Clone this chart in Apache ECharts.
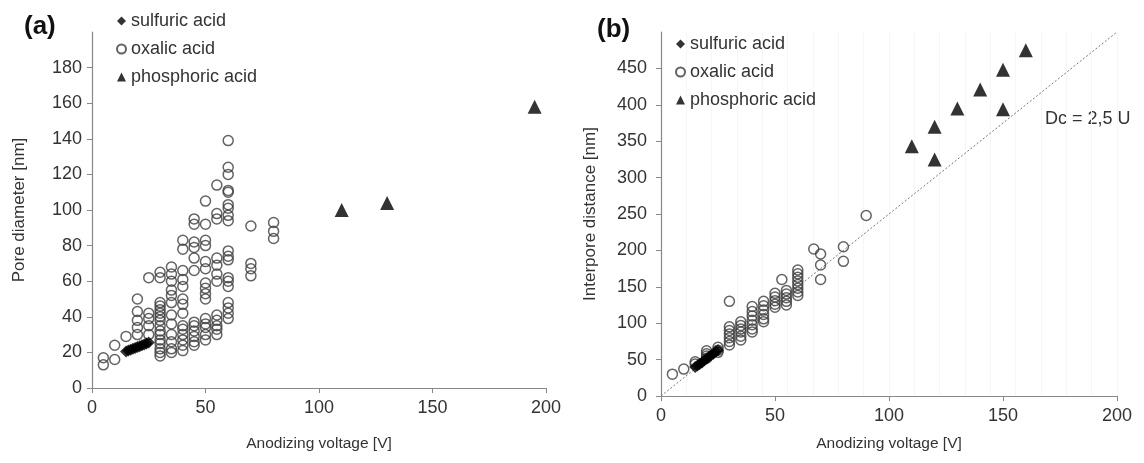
<!DOCTYPE html>
<html><head><meta charset="utf-8">
<script src="https://cdn.jsdelivr.net/npm/echarts@6/dist/echarts.min.js"></script>
<style>html,body{margin:0;padding:0;background:#fff}#c{width:1144px;height:463px}</style>
</head><body><div id="c"></div>
<script>
// ---------- Panel (a): pore diameter ----------
const voltsA = [5,10,15,20,25,30,35,40,45,50,55,60,70,80];
const oxalicDiamA = [
  [17,13],[24,16],[29],[50,43,38,34,30],[62,42,39,35,30],
  [65,62,48,46,44,42,40,38,35,32,30,27,25,22,20,18],
  [68,64,60,55,52,48,41,36,30,26,22,20],
  [83,78,66,61,57,50,47,42,35,33,30,27,24,21],
  [95,92,82,79,73,66,37,35,32,29,26,24],
  [105,92,83,80,71,67,59,56,53,50,39,36,34,30,27],
  [114,98,95,73,69,64,60,41,38,35,33,30],
  [139,124,120,111,110,103,101,97,94,77,74,72,62,60,57,48,45,42,39],
  [91,70,67,63],[93,88,84]
];
const sulfuricVoltsA = [15,16,17,18,19,20,21,22,23,24,25];
const sulfuricDiamA  = [20.5,21,21.5,22,22.5,23,23.5,24,24.5,25,25.5];
const phosVoltsA = [110,130,195];
const phosDiamA  = [100,104,158];

// ---------- Panel (b): interpore distance ----------
const voltsB = [5,10,15,20,25,30,35,40,45,50,53,55,60,67,70,80,90];
const oxalicDistB = [
  [30],[37],[44,47],[52,55,58,62],[60,63,67],
  [130,95,90,85,80,75,70],[102,97,92,88,82,77],
  [123,116,110,104,98,92,88],[130,124,118,112,106,102],
  [141,136,131,126,122],[160],[145,140,135,130,125],
  [173,168,163,158,153,148,143,138],[202],[195,180,160],[205,185],[248]
];
const sulfuricVoltsB = [15,16,17,18,19,20,21,22,23,24,25];
const sulfuricDistB  = [40,42,44,46,49,51,54,56,58,61,63];
const phosVoltsB = [110,120,120,130,140,150,150,160];
const phosDistB  = [343,370,325,395,421,448,394,475];
const fitV = [0,200];
const fitD = [0,500];

function cols(v, arr){const o=[];v.forEach((x,i)=>arr[i].forEach(y=>o.push([x,y])));return o;}
function pairs(v, d){return v.map((x,i)=>[x,d[i]]);}

const FONT = '"Liberation Sans", Arial, sans-serif';
const TXT = '#333';
const AX = '#888';

function xAxis(grid, nameGap){
  return {gridIndex:grid,type:'value',min:0,max:200,interval:50,
    name:'Anodizing voltage [V]',nameLocation:'middle',nameGap:nameGap,
    nameTextStyle:{fontFamily:FONT,fontSize:15.5,color:TXT},
    axisLine:{show:true,lineStyle:{color:AX,width:1.2}},
    axisTick:{show:true,length:5,lineStyle:{color:AX}},
    axisLabel:{fontFamily:FONT,fontSize:18,color:TXT,margin:11},
    splitLine:{show:false}};
}
function yAxis(grid, name, max, interval, nameGap, margin){
  return {gridIndex:grid,type:'value',min:0,max:max,interval:interval,
    name:name,nameLocation:'middle',nameGap:nameGap,
    nameTextStyle:{fontFamily:FONT,fontSize:17,color:TXT},
    axisLine:{show:true,lineStyle:{color:AX,width:1.2}},
    axisTick:{show:true,length:5,lineStyle:{color:AX}},
    axisLabel:{fontFamily:FONT,fontSize:18,color:TXT,margin:margin,showMaxLabel:false},
    splitLine:{show:false}};
}

const oxStyle = {color:'rgba(0,0,0,0)',borderColor:'#3c3c3c',borderWidth:1.5};
const sulStyle = {color:'#000'};
const phStyle = {color:'#000'};

const legendCommon = {orient:'vertical',itemWidth:9,itemHeight:9,itemGap:8,padding:0,
  textStyle:{fontFamily:FONT,fontSize:18,color:TXT,lineHeight:20},
  data:[{name:'sulfuric acid',icon:'diamond'},{name:'oxalic acid',icon:'circle'},{name:'phosphoric acid',icon:'triangle'}],
  selectedMode:false};

const option = {
  animation:false,
  backgroundColor:'#fff',
  grid:[
    {left:92,top:32,width:454,height:356},
    {left:661,top:32,width:456,height:364}
  ],
  xAxis:[xAxis(0,48), xAxis(1,40),
    {gridIndex:1,type:'value',min:0,max:18,interval:1,show:true,
     axisLine:{show:false},axisTick:{show:false},axisLabel:{show:false},
     splitLine:{show:true,lineStyle:{color:'#f6f6f6',width:1}}}],
  yAxis:[yAxis(0,'Pore diameter [nm]',200,20,64,10), yAxis(1,'Interpore distance [nm]',500,50,62,14)],
  legend:[
    Object.assign({left:116,top:11},legendCommon),
    Object.assign({left:675,top:34},legendCommon)
  ],
  graphic:[
    {type:'text',left:24,top:14,style:{text:'(a)',font:'bold 26px '+FONT,fill:'#111'}},
    {type:'text',left:597,top:17,style:{text:'(b)',font:'bold 26px '+FONT,fill:'#111'}},
    {type:'text',left:1045,top:110,style:{text:'Dc = 2,5 U',font:'18px '+FONT,fill:TXT,backgroundColor:'#fff'}}
  ],
  series:[
    {name:'oxalic acid',type:'scatter',xAxisIndex:0,yAxisIndex:0,symbol:'circle',symbolSize:10,
     itemStyle:oxStyle,data:cols(voltsA,oxalicDiamA),z:2},
    {name:'sulfuric acid',type:'scatter',xAxisIndex:0,yAxisIndex:0,symbol:'diamond',symbolSize:12,
     itemStyle:sulStyle,data:pairs(sulfuricVoltsA,sulfuricDiamA),z:3},
    {name:'phosphoric acid',type:'scatter',xAxisIndex:0,yAxisIndex:0,symbol:'triangle',symbolSize:14,
     itemStyle:phStyle,data:pairs(phosVoltsA,phosDiamA),z:3},
    {name:'fit',type:'line',xAxisIndex:1,yAxisIndex:1,symbol:'none',silent:true,
     lineStyle:{color:'#777',width:1,type:[2,2]},data:pairs(fitV,fitD),z:1},
    {name:'oxalic acid',type:'scatter',xAxisIndex:1,yAxisIndex:1,symbol:'circle',symbolSize:10,
     itemStyle:oxStyle,data:cols(voltsB,oxalicDistB),z:2},
    {name:'sulfuric acid',type:'scatter',xAxisIndex:1,yAxisIndex:1,symbol:'diamond',symbolSize:12,
     itemStyle:sulStyle,data:pairs(sulfuricVoltsB,sulfuricDistB),z:3},
    {name:'phosphoric acid',type:'scatter',xAxisIndex:1,yAxisIndex:1,symbol:'triangle',symbolSize:14,
     itemStyle:phStyle,data:pairs(phosVoltsB,phosDistB),z:3}
  ]
};
const chart = echarts.init(document.getElementById('c'),null,{renderer:'canvas'});
chart.setOption(option);
</script></body></html>
